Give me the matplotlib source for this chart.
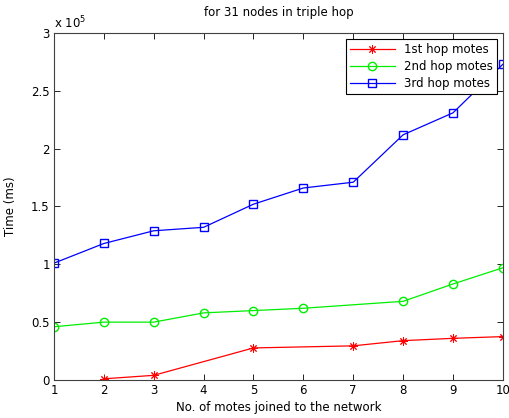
import matplotlib
matplotlib.use("Agg")
import matplotlib.pyplot as plt
from matplotlib.ticker import FuncFormatter, MultipleLocator

# data
hop1_x = [2, 3, 5, 7, 8, 9, 10]
hop1_y = [1000, 4000, 27700, 29500, 34000, 36000, 37500]
hop2_x = [1, 2, 3, 4, 5, 6, 8, 9, 10]
hop2_y = [46000, 50000, 50000, 58000, 60000, 62000, 68000, 83000, 97000]
hop3_x = [1, 2, 3, 4, 5, 6, 7, 8, 9, 10]
hop3_y = [101000, 118000, 129000, 132000, 152000, 166000, 171000, 212000, 231000, 273000]
labels = ["1st hop motes", "2nd hop motes", "3rd hop motes"]

plt.rcParams["font.family"] = "DejaVu Sans"
fs = 8.5

fig = plt.figure(figsize=(5.09, 4.18), dpi=100)
ax = fig.add_axes([0.106, 0.091, 0.882, 0.830])

ax.plot(hop1_x, hop1_y, color="#ff0000", marker=(8, 2, 0), markersize=6,
        markeredgewidth=0.7, linewidth=0.9, label=labels[0])
ax.plot(hop2_x, hop2_y, color="#00ee00", marker="o", markersize=6,
        markerfacecolor="none", linewidth=0.9, label=labels[1])
ax.plot(hop3_x, hop3_y, color="#0000ff", marker="s", markersize=6,
        markerfacecolor="none", linewidth=0.9, label=labels[2])

ax.set_xlim(1, 10)
ax.set_ylim(0, 300000)
ax.xaxis.set_major_locator(MultipleLocator(1))
ax.yaxis.set_major_locator(MultipleLocator(50000))
ax.yaxis.set_major_formatter(FuncFormatter(lambda v, p: f"{v / 1e5:g}"))
ax.tick_params(direction="in", top=True, right=True, length=4, width=0.6,
               labelsize=fs, pad=3)
for s in ax.spines.values():
    s.set_linewidth(0.8)
    s.set_color("#404040")

ax.text(0.0, 1.005, r"x 10$^5$", transform=ax.transAxes, fontsize=fs,
        ha="left", va="bottom")
ax.set_title("for 31 nodes in triple hop", fontsize=fs, pad=12)
ax.set_xlabel("No. of motes joined to the network", fontsize=fs, labelpad=3)
ax.set_ylabel("Time (ms)", fontsize=fs, labelpad=10)

leg = ax.legend(loc="upper right", fontsize=fs, fancybox=False, framealpha=1,
                edgecolor="black", markerscale=1, numpoints=1,
                handlelength=3.8, borderaxespad=0.5, labelspacing=0.35,
                borderpad=0.35)
leg.get_frame().set_linewidth(0.8)

fig.savefig("out.png", dpi=100)
